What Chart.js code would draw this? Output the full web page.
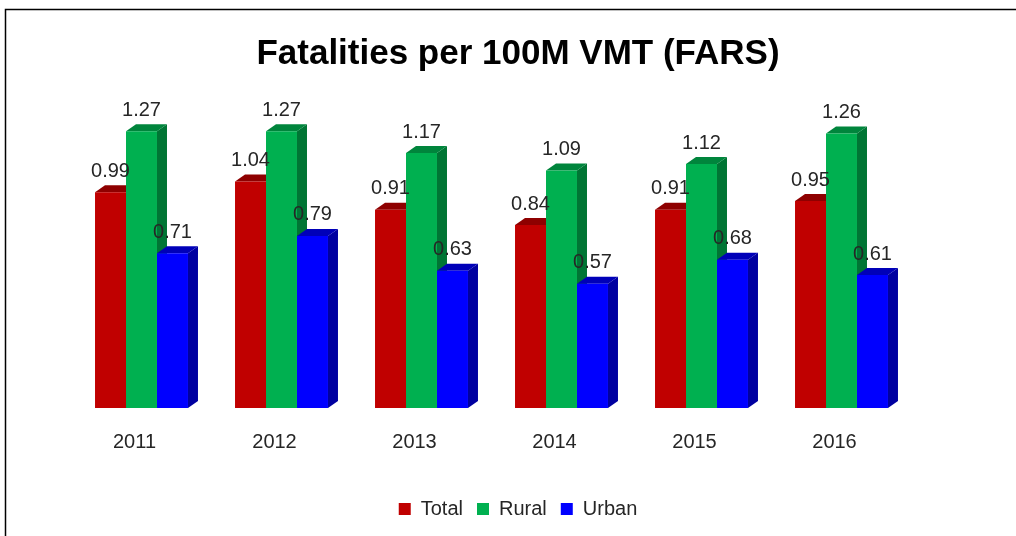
<!DOCTYPE html>
<html>
<head>
<meta charset="utf-8">
<script src="https://cdn.jsdelivr.net/npm/chart.js@4.4.1/dist/chart.umd.min.js"></script>
<style>
    html, body { margin: 0; padding: 0; background: #fff; }
    #chartFatalities { display: block; }
</style>
</head>
<body>
<canvas id="chartFatalities" width="1016" height="536"></canvas>
<script>
// --- DATA ---
const anos = ['2011', '2012', '2013', '2014', '2015', '2016'];
const total = [0.99, 1.04, 0.91, 0.84, 0.91, 0.95];
const rural = [1.27, 1.27, 1.17, 1.09, 1.12, 1.26];
const urban = [0.71, 0.79, 0.63, 0.57, 0.68, 0.61];

const FONTE = "'Liberation Sans', Arial, sans-serif";
const COR_TEXTO = '#262626';

// front / top / side colours for each series
const cores = [
    { frente: '#C00000', topo: '#8E0000', lado: '#8A0000' },
    { frente: '#00B050', topo: '#00853C', lado: '#007534' },
    { frente: '#0000FF', topo: '#0000B8', lado: '#0000A0' }
];

const PROF_X = 10, PROF_Y = 7;

// simple fake 3D: top + side faces drawn before the fronts
const faces3d = {
    id: 'faces3d',
    beforeDatasetsDraw(chart) {
        const ctx = chart.ctx;
        chart.data.datasets.forEach((ds, i) => {
            const meta = chart.getDatasetMeta(i);
            meta.data.forEach(bar => {
                const { x, y, width, base } = bar.getProps(['x', 'y', 'width', 'base'], true);
                const esq = x - width / 2, dir = x + width / 2;
                ctx.save();
                ctx.fillStyle = cores[i].lado;
                ctx.beginPath();
                ctx.moveTo(dir, y);
                ctx.lineTo(dir + PROF_X, y - PROF_Y);
                ctx.lineTo(dir + PROF_X, base - PROF_Y);
                ctx.lineTo(dir, base);
                ctx.closePath();
                ctx.fill();
                ctx.fillStyle = cores[i].topo;
                ctx.beginPath();
                ctx.moveTo(esq, y);
                ctx.lineTo(esq + PROF_X, y - PROF_Y);
                ctx.lineTo(dir + PROF_X, y - PROF_Y);
                ctx.lineTo(dir, y);
                ctx.closePath();
                ctx.fill();
                ctx.restore();
            });
        });
    },
    afterDatasetsDraw(chart) {
        const ctx = chart.ctx;
        ctx.save();
        ctx.font = '20px ' + FONTE;
        ctx.fillStyle = COR_TEXTO;
        ctx.textAlign = 'center';
        ctx.textBaseline = 'middle';
        chart.data.datasets.forEach((ds, i) => {
            chart.getDatasetMeta(i).data.forEach((bar, j) => {
                ctx.fillText(ds.data[j].toFixed(2), bar.x, bar.y - 21);
            });
        });
        ctx.restore();
    }
};

// frame line on top and left like the source screenshot
const moldura = {
    id: 'moldura',
    beforeDraw(chart) {
        const ctx = chart.ctx;
        ctx.save();
        ctx.fillStyle = '#fff';
        ctx.fillRect(0, 0, chart.width, chart.height);
        ctx.strokeStyle = '#000';
        ctx.lineWidth = 1.5;
        ctx.beginPath();
        ctx.moveTo(5.5, chart.height);
        ctx.lineTo(5.5, 9.5);
        ctx.lineTo(chart.width, 9.5);
        ctx.stroke();
        ctx.restore();
    }
};

const ctxFat = document.getElementById('chartFatalities');
new Chart(ctxFat.getContext('2d'), {
    type: 'bar',
    data: {
        labels: anos,
        datasets: [
            { label: 'Total', data: total, backgroundColor: cores[0].frente },
            { label: 'Rural', data: rural, backgroundColor: cores[1].frente },
            { label: 'Urban', data: urban, backgroundColor: cores[2].frente }
        ]
    },
    options: {
        responsive: false,
        animation: false,
        categoryPercentage: 0.664,
        barPercentage: 1,
        layout: { padding: { left: 20, right: 0, top: 12, bottom: 7 } },
        plugins: {
            title: {
                display: true,
                text: 'Fatalities per 100M VMT (FARS)',
                color: '#000',
                font: { family: FONTE, size: 35, weight: 'bold' },
                padding: { top: 21, bottom: 28 }
            },
            legend: {
                position: 'bottom',
                labels: {
                    color: COR_TEXTO,
                    font: { family: FONTE, size: 20 },
                    boxWidth: 12,
                    boxHeight: 12,
                    padding: 14
                }
            },
            tooltip: { enabled: false }
        },
        scales: {
            x: {
                grid: { display: false, drawTicks: false },
                border: { display: false },
                ticks: { color: COR_TEXTO, font: { family: FONTE, size: 20 }, padding: 22, labelOffset: -7 },
                afterFit: s => { s.height = 77; }
            },
            y: {
                min: 0,
                max: 1.4,
                grid: { display: false, drawTicks: false },
                border: { display: false },
                ticks: { display: false },
                afterFit: s => { s.width = 51.5; }
            },
            yDir: {
                position: 'right',
                min: 0,
                max: 1.4,
                grid: { display: false, drawTicks: false },
                border: { display: false },
                ticks: { display: false },
                afterFit: s => { s.width = 104.5; }
            }
        }
    },
    plugins: [moldura, faces3d]
});
</script>
</body>
</html>
